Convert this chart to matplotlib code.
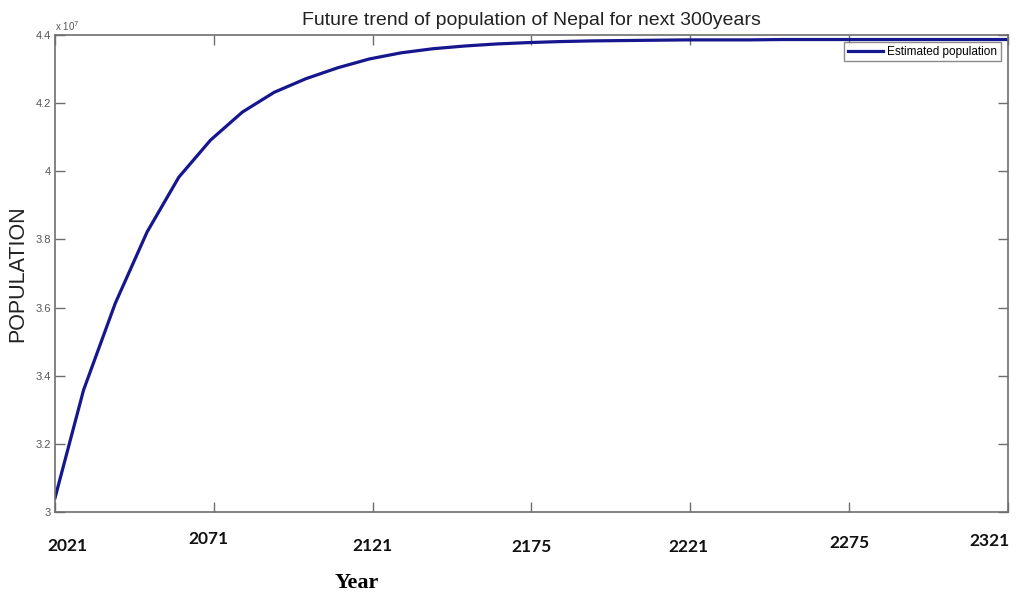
"""Logistic-style projection of Nepal's population, MATLAB look."""

import matplotlib
matplotlib.use("Agg")
import matplotlib.pyplot as plt
from matplotlib import transforms

# values (population)
years = [2021, 2030, 2040, 2050, 2060, 2070, 2080, 2090, 2100, 2110, 2120,
         2130, 2140, 2150, 2160, 2170, 2180, 2190, 2200, 2210, 2220,
         2230, 2240, 2250, 2260, 2270, 2280, 2290, 2300, 2310, 2320, 2321]
population = [3.041e7, 3.358e7, 3.613e7, 3.822e7, 3.983e7, 4.092e7, 4.174e7,
              4.232e7, 4.272e7, 4.304e7, 4.330e7, 4.348e7, 4.360e7, 4.368e7,
              4.374e7, 4.378e7, 4.381e7, 4.383e7, 4.384e7, 4.385e7, 4.386e7,
              4.386e7, 4.386e7, 4.387e7, 4.387e7, 4.387e7, 4.387e7, 4.387e7,
              4.387e7, 4.387e7, 4.387e7, 4.387e7]
xtick_values = [2021, 2071, 2121, 2171, 2221, 2271, 2321]
xtick_labels = ["2021", "2071", "2121", "2175", "2221", "2275", "2321"]
ytick_values = [3.0, 3.2, 3.4, 3.6, 3.8, 4.0, 4.2, 4.4]

LINE = "#16168f"
AXIS = "#6e6e6e"
GREY_TXT = "#555555"

# hand-placement shifts of the pasted year labels (pixels, +y is up)
label_shift = [(12, 0), (-5, 7), (0, 0), (0, -1), (-2, -1), (0, 3), (-18, 5)]


def main() -> None:
    fig = plt.figure(figsize=(10.18, 5.95), dpi=100)
    ax = fig.add_axes([0.054, 0.1395, 0.936, 0.8015])

    ax.plot(years, population, color=LINE, linewidth=2.3, label="Estimated population")

    ax.set_xlim(2021, 2321)
    ax.set_ylim(3.0e7, 4.4e7)

    # year labels were pasted on by hand in the original: draw them as texts
    ax.set_xticks(xtick_values)
    ax.set_xticklabels([])
    base = ax.get_xaxis_transform()
    for xv, text, (dx, dy) in zip(xtick_values, xtick_labels, label_shift):
        off = transforms.ScaledTranslation(dx / 100, (dy - 34) / 100, fig.dpi_scale_trans)
        ax.text(xv, 0, text, transform=base + off, ha="center", va="center",
                fontfamily="Lato", fontweight="bold", fontsize=12.5,
                color="#111111", clip_on=False)

    ax.set_yticks([v * 1e7 for v in ytick_values])
    ax.set_yticklabels([f"{v:g}" for v in ytick_values], fontfamily="Liberation Sans",
                       fontsize=8, color=GREY_TXT)

    ax.tick_params(axis="both", direction="in", length=7, width=1, color=AXIS,
                   top=True, right=True)
    ax.tick_params(axis="y", pad=3)
    for sp in ax.spines.values():
        sp.set_color(AXIS)
        sp.set_linewidth(1.2)

    ax.text(0.0, 1.004, r"x 10$^7$", transform=ax.transAxes, fontsize=7,
            color=GREY_TXT, fontfamily="Liberation Sans", ha="left", va="bottom")

    ax.set_title("Future trend of population of Nepal for next 300years",
                 fontfamily="Liberation Sans", fontsize=14, color="#222222", pad=7)
    ax.set_ylabel("POPULATION", fontfamily="Liberation Sans", fontsize=15.5,
                  color="#222222")
    ax.yaxis.set_label_coords((28 - 55) / 953, 0.5)
    fig.text(357 / 1018, 1 - 583 / 595, "Year", fontfamily="Liberation Serif",
             fontweight="bold", fontsize=16, ha="center", va="center")

    leg = ax.legend(loc="upper right", frameon=True, fancybox=False,
                    borderaxespad=0.6, handlelength=3.0, handletextpad=0.35,
                    borderpad=0.3, prop={"family": "Liberation Sans", "size": 8.5})
    leg.get_frame().set_edgecolor(AXIS)
    leg.get_frame().set_linewidth(1.0)

    fig.savefig("out.png", dpi=100)
    plt.close(fig)


if __name__ == "__main__":
    main()
